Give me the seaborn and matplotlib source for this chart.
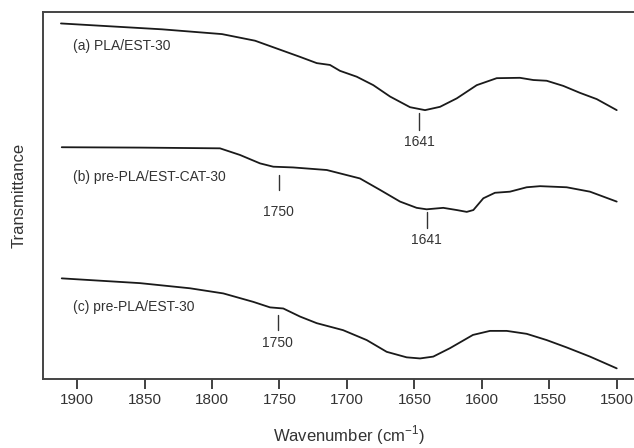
import matplotlib
matplotlib.use("Agg")
import matplotlib.pyplot as plt
import numpy as np
import pandas as pd
import seaborn as sns

# =====================================================
# FTIR SPECTRA
# =====================================================

# (a) PLA/EST-30
wn_a = [1911.9, 1837.0, 1792.6, 1768.1, 1734.8, 1722.4, 1712.6, 1705.2, 1692.8, 1680.5,
        1668.1, 1653.3, 1642.2, 1631.1, 1618.7, 1603.9, 1589.1, 1571.9, 1562.0, 1552.1,
        1539.8, 1527.4, 1515.0, 1500.2]
t_a = [96.8, 95.2, 93.9, 92.1, 87.7, 86.0, 85.5, 83.9, 82.3, 80.0,
       76.9, 74.0, 73.2, 74.1, 76.4, 80.0, 81.9, 82.0, 81.4, 81.2,
       79.8, 77.9, 76.2, 73.2]

# (b) pre-PLA/EST-CAT-30
wn_b = [1911.3, 1853.3, 1794.1, 1779.3, 1764.4, 1754.6, 1740.0, 1715.0, 1690.4, 1675.6,
        1660.7, 1648.4, 1641.0, 1628.7, 1618.7, 1611.3, 1606.4, 1599.0, 1590.4, 1579.3,
        1566.9, 1557.0, 1537.3, 1520.0, 1500.2]
t_b = [63.1, 63.0, 62.8, 61.0, 58.7, 57.8, 57.6, 56.9, 54.6, 51.5,
       48.3, 46.6, 46.2, 46.6, 46.0, 45.5, 46.0, 49.2, 50.7, 51.0,
       52.2, 52.5, 52.2, 51.0, 48.3]

# (c) pre-PLA/EST-30
wn_c = [1911.3, 1853.3, 1816.3, 1791.6, 1769.4, 1757.0, 1747.2, 1734.8, 1722.4, 1702.9,
        1685.4, 1670.6, 1655.8, 1645.9, 1636.1, 1623.7, 1606.7, 1594.1, 1581.7, 1566.9,
        1552.1, 1537.3, 1520.0, 1500.2]
t_c = [27.4, 26.1, 24.7, 23.3, 21.0, 19.5, 19.2, 17.0, 15.2, 13.3,
       10.6, 7.4, 5.9, 5.6, 6.1, 8.4, 12.0, 13.1, 13.1, 12.3,
       10.6, 8.6, 6.1, 2.9]

labels = ["(a) PLA/EST-30", "(b) pre-PLA/EST-CAT-30", "(c) pre-PLA/EST-30"]
label_y = [90.7, 55.1, 19.7]

# peak markers: position, marker top, marker bottom, text y, text
peak_x = [1646.7, 1750.6, 1641.0, 1751.3]
peak_top = [72.3, 55.5, 45.5, 17.4]
peak_bot = [67.8, 51.5, 41.0, 13.3]
peak_text_y = [64.6, 45.5, 37.8, 9.8]
peak_text = ["1641", "1750", "1641", "1750"]

xticks = [1900, 1850, 1800, 1750, 1700, 1650, 1600, 1550, 1500]

df = pd.concat([
    pd.DataFrame({"wn": wn_a, "T": t_a, "sample": labels[0]}),
    pd.DataFrame({"wn": wn_b, "T": t_b, "sample": labels[1]}),
    pd.DataFrame({"wn": wn_c, "T": t_c, "sample": labels[2]}),
])

sns.set_style("white")
plt.rcParams["font.family"] = ["Liberation Sans", "DejaVu Sans"]

fig = plt.figure(figsize=(6.34, 4.48), dpi=100)
ax = fig.add_axes([0.0678, 0.154, 0.9322, 0.8199])

sns.lineplot(
    data=df,
    x="wn",
    y="T",
    hue="sample",
    palette=["#1a1a1a"] * 3,
    estimator=None,
    sort=False,
    linewidth=1.3,
    legend=False,
    ax=ax
)

text_color = "#333333"

for lab, ly in zip(labels, label_y):
    ax.text(1902.9, ly, lab, fontsize=10, color=text_color, ha="left", va="center")

for px, top, bot, ty, txt in zip(peak_x, peak_top, peak_bot, peak_text_y, peak_text):
    ax.plot([px, px], [top, bot], color="#333333", linewidth=1.0)
    ax.text(px, ty, txt, fontsize=10, color=text_color, ha="center", va="center")

ax.set_xlim(1925.2, 1487.4)
ax.set_ylim(0, 100)
ax.set_xticks(xticks)
ax.set_yticks([])

ax.tick_params(axis="x", direction="out", length=7, width=1.3, color="#333333",
               labelsize=11, labelcolor=text_color, pad=3, bottom=True)

for side in ["left", "top", "bottom"]:
    ax.spines[side].set_color("#444444")
    ax.spines[side].set_linewidth(1.4)
ax.spines["right"].set_visible(False)

ax.set_xlabel(r"Wavenumber (cm$^{\mathregular{-1}}$)", fontsize=12, color=text_color)
ax.xaxis.set_label_coords(0.518, -0.122)
ax.set_ylabel("Transmittance", fontsize=12, color=text_color)
ax.yaxis.set_label_coords(-0.028, 0.5)

fig.savefig("out.png", dpi=100)
plt.close(fig)
